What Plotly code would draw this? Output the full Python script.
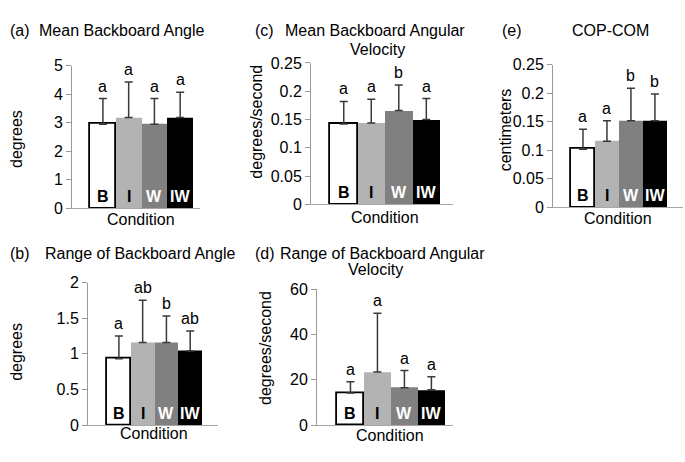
import plotly.graph_objects as go

# data
conditions = ["B", "I", "W", "IW"]

mean_angle = [2.95, 3.19, 2.95, 3.19]
mean_angle_sd = [0.90, 1.24, 0.90, 0.88]
mean_angle_sig = ["a", "a", "a", "a"]

range_angle = [0.93, 1.16, 1.16, 1.04]
range_angle_sd = [0.32, 0.59, 0.37, 0.28]
range_angle_sig = ["a", "ab", "b", "ab"]

mean_vel = [0.142, 0.144, 0.166, 0.150]
mean_vel_sd = [0.040, 0.042, 0.045, 0.037]
mean_vel_sig = ["a", "a", "b", "a"]

range_vel = [14.2, 23.4, 16.5, 15.6]
range_vel_sd = [4.9, 26.0, 7.6, 5.7]
range_vel_sig = ["a", "a", "a", "a"]

cop_com = [0.102, 0.116, 0.152, 0.152]
cop_com_sd = [0.035, 0.036, 0.057, 0.047]
cop_com_sig = ["a", "a", "b", "b"]

bar_colors = ["#ffffff", "#b3b3b3", "#808080", "#000000"]
label_colors = ["#000000", "#000000", "#ffffff", "#ffffff"]

W, H = 685, 462
FONT = "Liberation Sans, Arial, sans-serif"


def px(x):
    return x / W


def py(y):
    return 1 - y / H


def text_font():
    return dict(family=FONT, size=16, color="#000000")


# panel layout in pixels: axis left/right, y of zero, y of top, x range, y range, dtick
panels = [
    dict(vals=mean_angle, sd=mean_angle_sd, sig=mean_angle_sig,
         x0=72, x1=200, yb=208, yt=60, xr=[-1.2, 3.77], yr=[0, 5], dt=1,
         ytitle="degrees", ytx=17, yty=136, cx=141, cy=220),
    dict(vals=mean_vel, sd=mean_vel_sd, sig=mean_vel_sig,
         x0=311, x1=453, yb=204, yt=57, xr=[-1.19, 3.97], yr=[0, 0.25], dt=0.05,
         ytitle="degrees/second", ytx=257, yty=118, cx=385, cy=217),
    dict(vals=cop_com, sd=cop_com_sd, sig=cop_com_sig,
         x0=553, x1=683, yb=207, yt=59, xr=[-1.25, 4.17], yr=[0, 0.25], dt=0.05,
         ytitle="centimeters", ytx=505, yty=127, cx=618, cy=219),
    dict(vals=range_angle, sd=range_angle_sd, sig=range_angle_sig,
         x0=88, x1=218, yb=433, yt=285, xr=[-1.3, 4.17], yr=[0, 2], dt=0.5,
         ytitle="degrees", ytx=17, yty=357, cx=154, cy=442),
    dict(vals=range_vel, sd=range_vel_sd, sig=range_vel_sig,
         x0=317, x1=453, yb=433, yt=292, xr=[-1.24, 3.8], yr=[0, 60], dt=20,
         ytitle="degrees/second", ytx=265, yty=353, cx=390, cy=444),
]

fig = go.Figure()
annotations = []
layout = {}

for i, p in enumerate(panels):
    k = "" if i == 0 else str(i + 1)
    xa, ya = "x" + k, "y" + k
    fig.add_trace(go.Bar(
        x=list(range(len(conditions))), y=p["vals"], width=1,
        marker=dict(color=bar_colors,
                    line=dict(color=["#000000", "rgba(0,0,0,0)", "rgba(0,0,0,0)", "rgba(0,0,0,0)"],
                              width=[1.8, 0, 0, 0])),
        error_y=dict(type="data", array=p["sd"], arrayminus=[0] * 4, symmetric=False,
                     color="#3a3a3a", thickness=1.5, width=4),
        xaxis=xa, yaxis=ya, showlegend=False,
    ))
    layout["xaxis" + k] = dict(
        domain=[px(p["x0"]), px(p["x1"])], range=p["xr"], anchor=ya,
        showticklabels=False, ticks="", showgrid=False, zeroline=False,
        showline=True, linecolor="#a6a6a6", linewidth=1,
    )
    layout["yaxis" + k] = dict(
        domain=[py(p["yb"]), py(p["yt"])], range=p["yr"], dtick=p["dt"], anchor=xa,
        showgrid=False, zeroline=False, showline=True, linecolor="#999999",
        linewidth=1, ticks="outside", ticklen=5, tickcolor="#999999",
        tickfont=text_font(),
    )
    for j, c in enumerate(conditions):
        annotations.append(dict(
            x=j, y=0, xref=xa, yref=ya, text="<b>%s</b>" % c, showarrow=False,
            xanchor="center", yanchor="bottom", yshift=1,
            font=dict(family=FONT, size=16, color=label_colors[j]),
        ))
        annotations.append(dict(
            x=j, y=p["vals"][j] + p["sd"][j], xref=xa, yref=ya, text=p["sig"][j],
            showarrow=False, xanchor="center", yanchor="bottom", yshift=2,
            font=text_font(),
        ))
    annotations.append(dict(
        x=px(p["ytx"]), y=py(p["yty"]), xref="paper", yref="paper", text=p["ytitle"],
        textangle=-90, showarrow=False, xanchor="center", yanchor="middle",
        font=text_font(),
    ))
    annotations.append(dict(
        x=px(p["cx"]), y=py(p["cy"]), xref="paper", yref="paper", text="Condition",
        showarrow=False, xanchor="center", yanchor="middle", font=text_font(),
    ))

# panel titles
titles = [
    ("(a)", 8, 23, "Mean Backboard Angle", 37, 23, "left"),
    ("(c)", 253, 23, "Mean Backboard Angular", 375, 23, "center"),
    ("", 0, 0, "Velocity", 377, 43, "center"),
    ("(e)", 500, 23, "COP-COM", 610, 23, "center"),
    ("(b)", 8, 255, "Range of Backboard Angle", 43, 255, "left"),
    ("(d)", 253, 255, "Range of Backboard Angular", 382, 255, "center"),
    ("", 0, 0, "Velocity", 375, 272, "center"),
]
for lab, lx, ly, txt, tx, ty, anc in titles:
    if lab:
        annotations.append(dict(
            x=px(lx), y=py(ly), xref="paper", yref="paper", text=lab, showarrow=False,
            xanchor="left", yanchor="middle", font=text_font(),
        ))
    annotations.append(dict(
        x=px(tx), y=py(ty), xref="paper", yref="paper", text=txt, showarrow=False,
        xanchor=anc, yanchor="middle", font=text_font(),
    ))

fig.update_layout(
    width=W, height=H, margin=dict(l=0, r=0, t=0, b=0),
    paper_bgcolor="white", plot_bgcolor="white", bargap=0,
    annotations=annotations, **layout,
)

fig.write_html("out.html", config={"displayModeBar": False},
               post_script="document.body.style.margin='0';")
